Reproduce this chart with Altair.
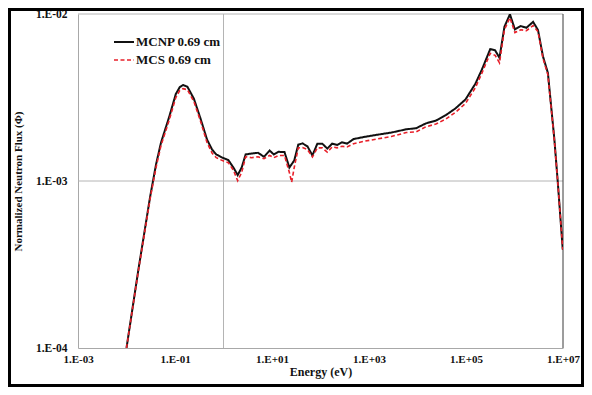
import altair as alt
import pandas as pd

energy = [0.010, 0.0175, 0.0307, 0.0407, 0.0514, 0.0759, 0.104, 0.125, 0.146, 0.180,
          0.245, 0.335, 0.459, 0.581, 0.710, 0.927, 1.26, 1.60, 1.96, 2.37,
          2.86, 3.79, 5.16, 6.84, 8.93, 10.9, 13.6, 18.1, 22.8, 25.4,
          28.8, 34.8, 42.6, 53.8, 68.1, 86.1, 109, 138, 174, 220,
          278, 352, 481, 769, 1435, 2897, 5861, 9355, 14962, 23930,
          38280, 61100, 97700, 156000, 214000, 316000, 399000, 490000, 620000, 805000,
          1.02e6, 1.35e6, 1.76e6, 2.42e6, 3.05e6, 3.86e6, 4.88e6, 6.65e6, 7.80e6, 9.9e6]

mcnp = [1.0e-4, 2.92e-4, 8.05e-4, 1.259e-3, 1.696e-3, 2.42e-3, 3.32e-3, 3.645e-3, 3.756e-3, 3.67e-3,
        3.11e-3, 2.37e-3, 1.766e-3, 1.543e-3, 1.442e-3, 1.384e-3, 1.334e-3, 1.204e-3, 1.085e-3, 1.204e-3,
        1.442e-3, 1.461e-3, 1.475e-3, 1.397e-3, 1.522e-3, 1.442e-3, 1.495e-3, 1.490e-3, 1.204e-3, 1.259e-3,
        1.329e-3, 1.651e-3, 1.680e-3, 1.613e-3, 1.422e-3, 1.673e-3, 1.673e-3, 1.564e-3, 1.673e-3, 1.644e-3,
        1.707e-3, 1.673e-3, 1.783e-3, 1.832e-3, 1.890e-3, 1.950e-3, 2.04e-3, 2.07e-3, 2.214e-3, 2.30e-3,
        2.478e-3, 2.724e-3, 3.078e-3, 3.822e-3, 4.666e-3, 6.166e-3, 6.06e-3, 5.46e-3, 8.385e-3, 9.96e-3,
        8.08e-3, 8.47e-3, 8.27e-3, 8.97e-3, 8.02e-3, 5.58e-3, 4.44e-3, 1.766e-3, 9.87e-4, 3.875e-4]

mcs = [1.0e-4, 2.876e-4, 7.83e-4, 1.209e-3, 1.628e-3, 2.316e-3, 3.162e-3, 3.476e-3, 3.571e-3, 3.524e-3,
       2.995e-3, 2.285e-3, 1.696e-3, 1.471e-3, 1.379e-3, 1.329e-3, 1.288e-3, 1.161e-3, 1.004e-3, 1.125e-3,
       1.397e-3, 1.379e-3, 1.397e-3, 1.360e-3, 1.422e-3, 1.379e-3, 1.422e-3, 1.422e-3, 1.125e-3, 9.83e-4,
       1.209e-3, 1.579e-3, 1.585e-3, 1.543e-3, 1.393e-3, 1.579e-3, 1.579e-3, 1.487e-3, 1.600e-3, 1.579e-3,
       1.613e-3, 1.600e-3, 1.673e-3, 1.726e-3, 1.783e-3, 1.847e-3, 1.950e-3, 1.968e-3, 2.114e-3, 2.193e-3,
       2.347e-3, 2.58e-3, 2.915e-3, 3.62e-3, 4.44e-3, 5.815e-3, 5.66e-3, 5.10e-3, 8.05e-3, 9.51e-3,
       7.73e-3, 8.05e-3, 7.94e-3, 8.53e-3, 7.84e-3, 5.435e-3, 4.32e-3, 1.742e-3, 9.87e-4, 3.875e-4]

series_names = ["MCNP 0.69 cm", "MCS 0.69 cm"]
x_ticks = [1e-3, 1e-1, 1e1, 1e3, 1e5, 1e7]
y_ticks = [1e-4, 1e-3, 1e-2]
x_grid = [1.0]
y_grid = [1e-3, 1e-2]
x_right = [1e7]

rows = []
for e, a, b in zip(energy, mcnp, mcs):
    rows.append({"E": e, "flux": a, "series": series_names[0]})
    rows.append({"E": e, "flux": b, "series": series_names[1]})
df = pd.DataFrame(rows)

FONT = "Liberation Serif"
label_expr = ("'1.E' + (datum.value < 1 ? '-' : '+') + "
              "(abs(round(log(datum.value)/LN10)) < 10 ? '0' : '') + "
              "abs(round(log(datum.value)/LN10))")

W, H = 485, 334
PAD = {"left": 70, "top": 6, "right": 21, "bottom": 39}

xscale = alt.Scale(type="log", domain=[1e-3, 1e7], nice=False)
yscale = alt.Scale(type="log", domain=[1e-4, 1e-2], nice=False)

vgrid = alt.Chart(pd.DataFrame({"x": x_grid})).mark_rule(color="#b4b4b4", strokeWidth=1).encode(
    x=alt.X("x:Q", scale=xscale))
hgrid = alt.Chart(pd.DataFrame({"y": y_grid})).mark_rule(color="#b4b4b4", strokeWidth=1).encode(
    y=alt.Y("y:Q", scale=yscale))
rborder = alt.Chart(pd.DataFrame({"x": x_right})).mark_rule(color="#3a3a3a", strokeWidth=1).encode(
    x=alt.X("x:Q", scale=xscale))

legend_cfg = dict(orient="none", legendX=35, legendY=17, title=None,
                  symbolType="stroke", symbolSize=400, symbolStrokeWidth=2,
                  labelFont=FONT, labelFontWeight="bold", labelFontSize=13,
                  labelColor="#111", labelOffset=1, rowPadding=-2)

lines = alt.Chart(df).mark_line(clip=True).encode(
    x=alt.X("E:Q", scale=xscale,
            axis=alt.Axis(values=x_ticks, labelExpr=label_expr, title="Energy  (eV)",
                          grid=False, ticks=False, domainColor="#a8a8a8",
                          labelFont=FONT, labelFontWeight="bold", labelFontSize=11,
                          labelColor="#111", labelPadding=5, labelFlush=False,
                          titleFont=FONT, titleFontWeight="bold", titleFontSize=12,
                          titleColor="#111", titlePadding=2)),
    y=alt.Y("flux:Q", scale=yscale,
            axis=alt.Axis(values=y_ticks, labelExpr=label_expr,
                          title="Normalized Neutron Flux (Φ)",
                          grid=False, ticks=False, domainColor="#a8a8a8",
                          labelFont=FONT, labelFontWeight="bold", labelFontSize=11.5,
                          labelColor="#111", labelPadding=11, labelFlush=False,
                          titleFont=FONT, titleFontWeight="bold", titleFontSize=11,
                          titleColor="#111", titlePadding=12)),
    color=alt.Color("series:N",
                    scale=alt.Scale(domain=series_names, range=["#111111", "#e8202a"]),
                    legend=alt.Legend(**legend_cfg)),
    strokeDash=alt.StrokeDash("series:N",
                              scale=alt.Scale(domain=series_names, range=[[1, 0], [4, 2.5]]),
                              legend=alt.Legend(**legend_cfg)),
    strokeWidth=alt.StrokeWidth("series:N",
                                scale=alt.Scale(domain=series_names, range=[2, 1.6]),
                                legend=None),
)

border = alt.Chart(pd.DataFrame({"k": [0]})).mark_rect(
    filled=False, stroke="black", strokeWidth=3, clip=False).encode(
    x=alt.value(-PAD["left"] + 1.5), x2=alt.value(W + PAD["right"] - 1.5),
    y=alt.value(-PAD["top"] + 1.5), y2=alt.value(H + PAD["bottom"] - 1.5))

chart = alt.layer(vgrid, hgrid, rborder, lines, border).properties(
    width=W, height=H, autosize="none", padding=PAD, background="white",
).configure_view(stroke=None)

chart.save("out.html", embed_options={"renderer": "svg", "actions": False})
